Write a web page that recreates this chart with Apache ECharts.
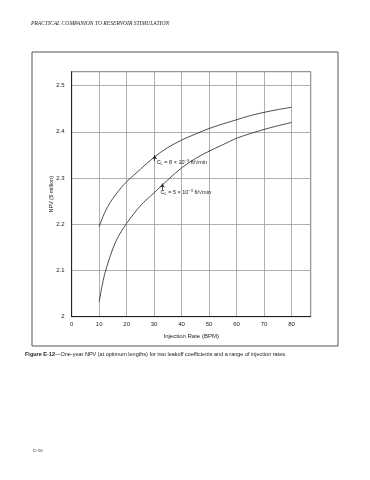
<!DOCTYPE html>
<html><head><meta charset="utf-8">
<script src="https://cdn.jsdelivr.net/npm/echarts@6/dist/echarts.min.js"></script>
<style>html,body{margin:0;padding:0;background:#fff}#c{width:370px;height:480px}</style>
</head><body><div id="c"></div>
<script>
// Injection rate (BPM) and NPV ($ million)
var rateHigh = [10, 12, 14, 16, 18, 20, 25, 30, 35, 40, 45, 50, 55, 60, 65, 70, 75, 80];
var npvHigh  = [2.195, 2.225, 2.247, 2.264, 2.279, 2.292, 2.319, 2.345, 2.366, 2.382, 2.395, 2.407, 2.417, 2.426, 2.435, 2.442, 2.448, 2.453];
var rateLow  = [10, 11, 12, 14, 16, 18, 20, 25, 30, 35, 40, 45, 50, 55, 60, 65, 70, 75, 80];
var npvLow   = [2.032, 2.065, 2.092, 2.131, 2.162, 2.184, 2.202, 2.240, 2.268, 2.296, 2.322, 2.342, 2.358, 2.372, 2.386, 2.396, 2.405, 2.413, 2.420];
var labelHigh = ['C', 'L', ' = 8 × 10', '−3', ' ft/√min'];
var labelLow  = ['C', 'L', ' = 5 × 10', '−3', ' ft/√min'];
var xTicks = [0, 10, 20, 30, 40, 50, 60, 70, 80];
var yTicks = [2, 2.1, 2.2, 2.3, 2.4, 2.5];
var headerText = 'PRACTICAL COMPANION TO RESERVOIR STIMULATION';
var captionBold = 'Figure E-12';
var captionText = '—One-year NPV (at optimum lengths) for two leakoff coefficients and a range of injection rates.';
var pageNum = 'E-26';
var xName = 'Injection Rate (BPM)';
var yName = 'NPV ($ million)';

function pairs(xs, ys){ return xs.map(function(x,i){ return [x, ys[i]]; }); }
function richLabel(p){ return '{n|' + p[0] + '}{s|' + p[1] + '}{n|' + p[2] + '}{u|' + p[3] + '}{n|' + p[4] + '}'; }
var rich = {
  n: {fontSize: 5.5, color: '#222', fontFamily: 'Liberation Sans'},
  s: {fontSize: 4, color: '#222', verticalAlign: 'bottom', padding: [3,0,0,0], fontFamily: 'Liberation Sans'},
  u: {fontSize: 4, color: '#222', verticalAlign: 'top', padding: [0,0,3,0], fontFamily: 'Liberation Sans'}
};
var FF = 'Liberation Sans';
var chart = echarts.init(document.getElementById('c'), null, {renderer: 'canvas'});
chart.setOption({
  animation: false,
  backgroundColor: '#fff',
  grid: {left: 71.7, right: 59.3, top: 71.7, bottom: 163.3, show: true, borderColor: '#444', borderWidth: 0.8, containLabel: false},
  xAxis: {
    type: 'value', min: 0, max: 87, interval: 10,
    name: xName, nameLocation: 'middle', nameGap: 17, nameMoveOverlap: false,
    nameTextStyle: {fontSize: 6, color: '#222', fontFamily: FF},
    axisLine: {show: true, lineStyle: {color: '#222', width: 1}},
    axisTick: {show: false},
    axisLabel: {fontSize: 6, color: '#222', fontFamily: FF, margin: 5, showMaxLabel: false,
      formatter: function(v){ return xTicks.indexOf(v) >= 0 ? String(v) : ''; }},
    splitLine: {show: true, lineStyle: {color: '#9a9a9a', width: 0.8}}
  },
  yAxis: {
    type: 'value', min: 2, max: 2.53, interval: 0.1,
    name: yName, nameLocation: 'middle', nameGap: 17, nameRotate: 90, nameMoveOverlap: false,
    nameTextStyle: {fontSize: 5.5, color: '#222', fontFamily: FF},
    axisLine: {show: true, lineStyle: {color: '#222', width: 1}},
    axisTick: {show: false},
    axisLabel: {fontSize: 6, color: '#222', fontFamily: FF, margin: 7, showMaxLabel: false,
      formatter: function(v){ var r = Math.round(v*10)/10; return yTicks.indexOf(r) >= 0 ? String(r) : ''; }},
    splitLine: {show: true, lineStyle: {color: '#9a9a9a', width: 0.8}}
  },
  series: [
    {type: 'line', data: pairs(rateHigh, npvHigh), smooth: 0.35, symbol: 'none',
     lineStyle: {color: '#222', width: 0.8},
     markPoint: {symbol: 'circle', symbolSize: 0.1, data: [{coord: [30.9, 2.333], label: {show: true, position: 'right', distance: 0, formatter: richLabel(labelHigh), rich: rich}}]},
     markLine: {silent: true, symbol: ['none', 'arrow'], symbolSize: [3.5, 4], label: {show: false},
       lineStyle: {color: '#222', width: 0.8, type: 'solid'},
       data: [[{coord: [30.2, 2.336]}, {coord: [30.2, 2.349]}]]}
    },
    {type: 'line', data: pairs(rateLow, npvLow), smooth: 0.35, symbol: 'none',
     lineStyle: {color: '#222', width: 0.8},
     markPoint: {symbol: 'circle', symbolSize: 0.1, data: [{coord: [32.3, 2.269]}], label: {show: true, position: 'right', distance: 0, formatter: richLabel(labelLow), rich: rich}},
     markLine: {silent: true, symbol: ['none', 'arrow'], symbolSize: [3.5, 4], label: {show: false},
       lineStyle: {color: '#222', width: 0.8, type: 'solid'},
       data: [[{coord: [33, 2.273]}, {coord: [33, 2.288]}]]}
    }
  ],
  graphic: [
    {type: 'rect', shape: {x: 32, y: 52, width: 306, height: 294}, style: {fill: 'none', stroke: '#555', lineWidth: 1}, z: -1},
    {type: 'text', left: 31, top: 21, style: {text: headerText, font: 'italic 5.6px "Liberation Serif"', fill: '#222'}},
    {type: 'text', left: 25, top: 351.5, style: {text: '{b|' + captionBold + '}{n|' + captionText + '}', rich: {
      b: {font: 'bold 5.5px "Liberation Sans"', fill: '#222'}, n: {font: '5.5px "Liberation Sans"', fill: '#222'}}}},
    {type: 'text', left: 33, top: 448, style: {text: pageNum, font: '5px "Liberation Serif"', fill: '#333'}}
  ]
});
</script></body></html>
